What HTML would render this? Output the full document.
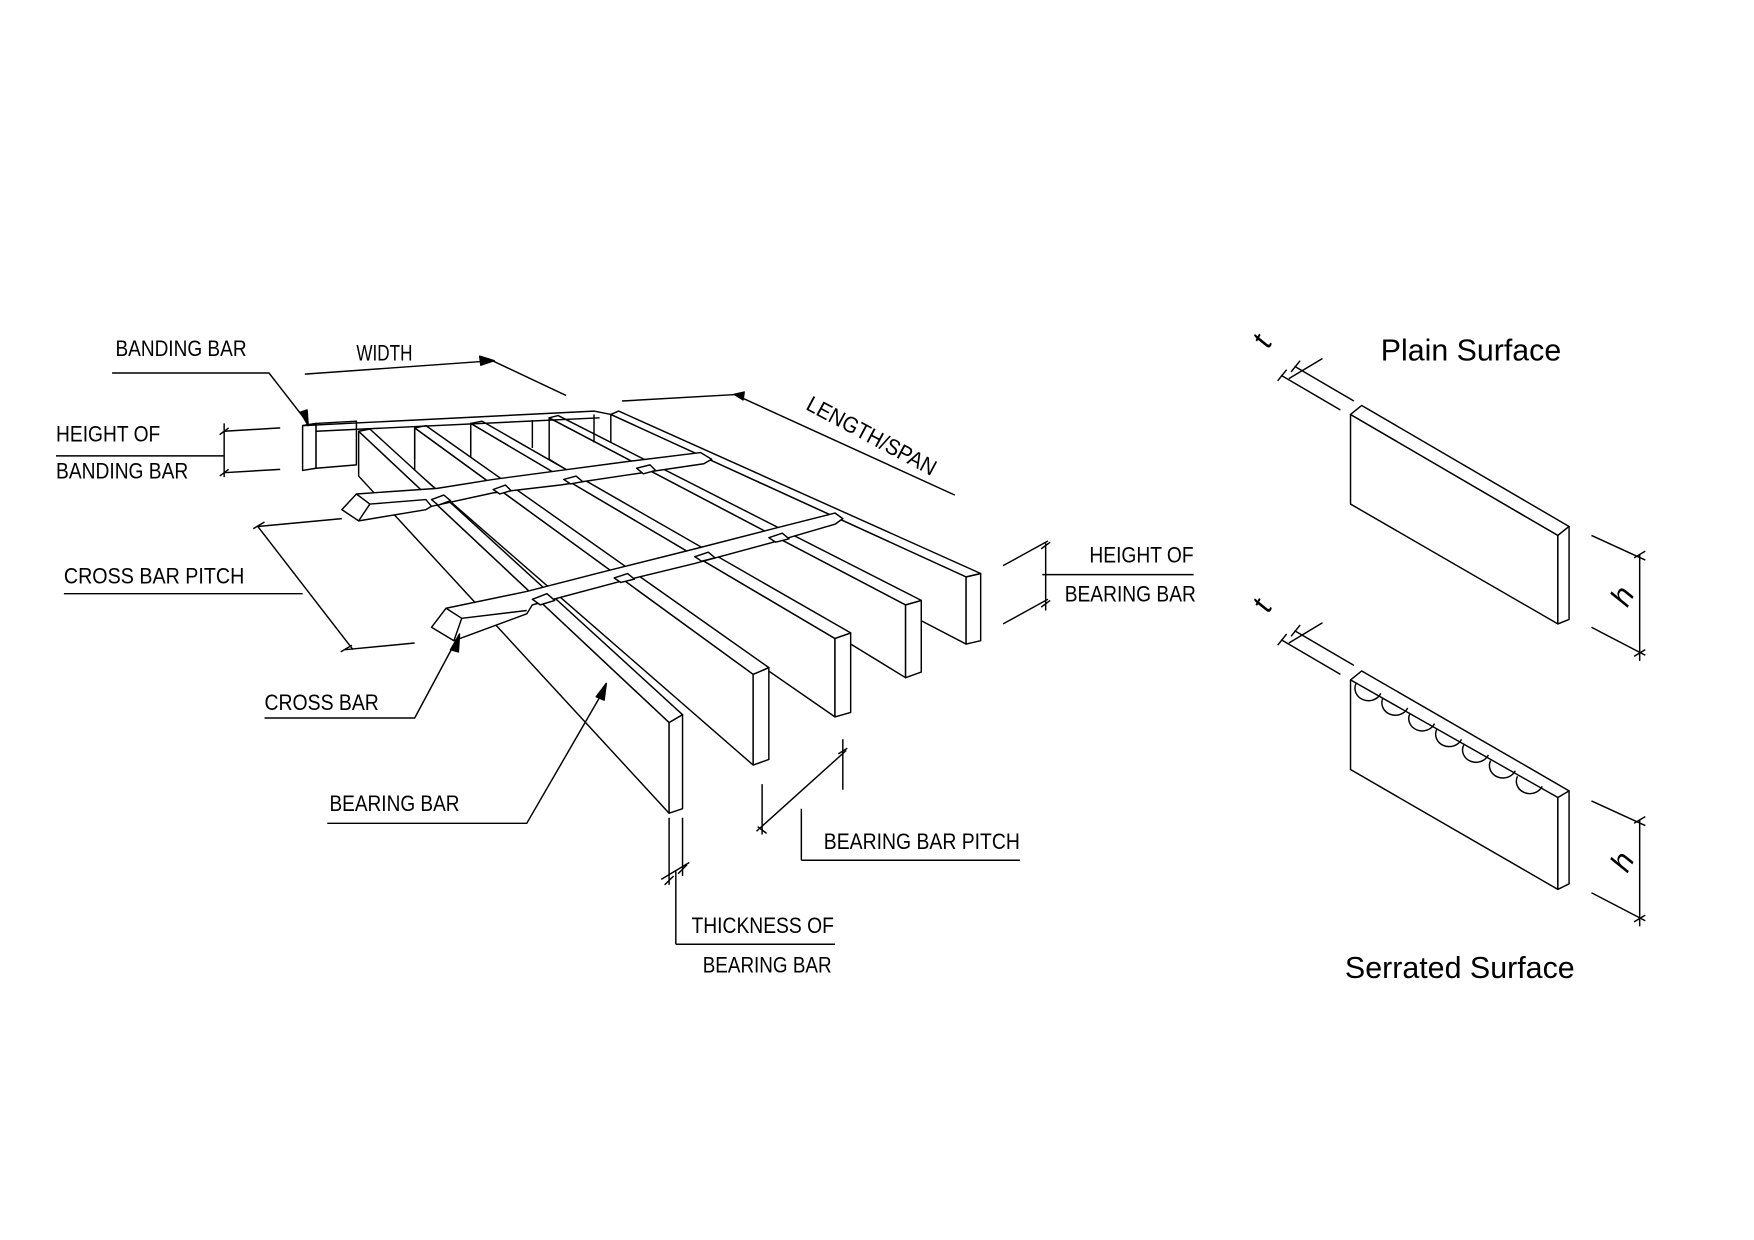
<!DOCTYPE html>
<html><head><meta charset="utf-8"><style>
html,body{margin:0;padding:0;background:#fff}
svg{display:block}
.t{font-family:"Liberation Sans Narrow","Liberation Sans",sans-serif;font-size:20px;fill:#000}
.a{font-family:"Liberation Sans",sans-serif;font-size:27px;fill:#000}
</style></head><body>
<svg width="1754" height="1240" viewBox="0 0 1565 1107" preserveAspectRatio="none" xmlns="http://www.w3.org/2000/svg">
<g fill="none" stroke="#000" stroke-width="1.3" stroke-linejoin="round">
<g fill="#fff">
<polygon points="545,370 862,515 862,575 545,410"/><polygon points="862,515 875,512 875,572 862,575"/><polygon points="545,370 552,367 875,512 862,515" />
<polygon points="490,373 808,540 808,605 490,410"/><polygon points="808,540 822,536 822,600 808,605"/><polygon points="490,373 498,371 822,536 808,540"/>
<polygon points="420,378 745,570 745,640 420,415"/><polygon points="745,570 759,565 759,636 745,640"/><polygon points="420,378 430,376 759,565 745,570"/>
<polygon points="370,382 672,602 672,683 370,420"/><polygon points="672,602 686,596 686,678 672,683"/><polygon points="370,382 380,380 686,596 672,602"/>
<polygon points="320,385 597,645 597,726 320,425"/><polygon points="597,645 609,638 609,722 597,726"/><polygon points="320,385 330,383 609,638 597,645"/>
</g>
<path fill="#fff" d="M318,441 L390,436 L440,428 L500,420 L560,412 L625,404 L635,410 L628,414 L560,424 L500,433 L440,440 L385,452 L380,455 L320,465 L305,455 Z"/>
<path d="M318,441 L330,450 L380,446 L385,452 M330,450 L320,465"/>
<path fill="#fff" d="M385,446 L396,442 L402,447 L391,451 Z M440,437 L451,433 L456,438 L446,441 Z M503,428 L514,425 L520,430 L509,432 Z M568,418 L580,415 L585,420 L574,423 Z"/>
<path fill="#fff" d="M398,543 L470,528 L540,510 L620,490 L690,472 L745,458 L752,463 L745,468 L690,484 L620,503 L550,520 L475,540 L470,548 L405,572 L385,560 Z"/>
<path d="M398,543 L412,552 L470,545 M412,552 L405,572"/>
<path fill="#fff" d="M475,535 L488,530 L495,536 L482,540 Z M548,516 L560,512 L566,517 L554,520 Z M620,497 L632,493 L638,498 L626,501 Z M686,480 L698,476 L704,481 L692,484 Z"/>
<polygon fill="#fff" points="270,380 282,378 282,418 270,420"/>
<polygon fill="#fff" points="282,378 318,376 318,415 282,418"/>
<path d="M270,380 L530,367 L545,370 M282,385 L535,373 M270,380 L282,378"/>
<path d="M370,382 L370,410 M420,378 L420,405 M475,375 L475,400 M530,370 L530,395"/>
<path d="M100,333 L240,333 L275,378"/>
<polygon fill="#000" points="275,380 268,368 274,366"/>
<path d="M272,334 L440,322 M435,320 L505,353"/>
<polygon fill="#000" points="441,322 428,318 429,326"/>
<path d="M555,358 L660,352 M655,352 L852,442"/>
<polygon fill="#000" points="655,352 664,350 663,357"/>
<path d="M50,407 L200,407 M200,385 L250,382 M200,422 L250,419 M200,378 L200,426 M196,388 L204,382 M196,425 L204,419"/>
<path d="M57,530 L270,530 M230,470 L315,580 M230,470 L305,463 M308,580 L370,574 M226,472 L236,466 M304,582 L314,576"/>
<path d="M236,641 L370,641 L408,570"/>
<polygon fill="#000" points="410,566 402,580 409,582"/>
<path d="M292,735 L470,735 L540,614"/>
<polygon fill="#000" points="541,610 532,622 539,625"/>
<path d="M930,513 L1065,513 M933,485 L933,545 M895,505 L935,483 M895,557 L935,535 M929,490 L937,484 M929,542 L937,536"/>
<path d="M715,768 L910,768 M715,768 L715,722 M675,742 L755,670 M680,700 L680,745 M752,660 L752,705 M676,738 L684,744 M748,673 L756,668"/>
<path d="M603,843 L745,843 M603,778 L603,843 M597,730 L597,790 M609,730 L609,782 M590,785 L615,770 M593,790 L601,782 M605,780 L613,772"/>
<polygon fill="#fff" points="1205,370 1390,478 1390,557 1205,450"/>
<polygon fill="#fff" points="1205,370 1215,362 1400,470 1390,478"/>
<polygon fill="#fff" points="1390,478 1400,470 1400,553 1390,557"/>
<path d="M1155,327 L1208,358 M1143,335 L1196,366 M1150,338 L1180,320 M1140,340 L1148,330 M1152,332 L1160,322"/>
<path d="M1420,478 L1468,500 M1420,560 L1468,585 M1463,495 L1463,590 M1458,498 L1468,492 M1458,586 L1468,580"/>
<polygon fill="#fff" points="1205,607 1390,712 1390,794 1205,687"/>
<polygon fill="#fff" points="1390,712 1400,706 1400,789 1390,794"/>
<path d="M1205,607 L1215,599 L1400,706"/>
<path d="M1210,610 a12,11 0 0 0 22,9 M1234,623 a12,11 0 0 0 22,9 M1258,637 a12,11 0 0 0 22,9 M1282,651 a12,11 0 0 0 22,9 M1306,665 a12,11 0 0 0 22,9 M1330,679 a12,11 0 0 0 22,9 M1354,693 a12,11 0 0 0 22,9"/>
<path d="M1155,563 L1208,594 M1143,571 L1196,602 M1150,574 L1180,556 M1140,576 L1148,566 M1152,568 L1160,558"/>
<path d="M1420,715 L1468,737 M1420,797 L1468,822 M1463,732 L1463,827 M1458,735 L1468,729 M1458,823 L1468,817"/>
</g>
<g>
<text class="t" x="103" y="318" textLength="117" lengthAdjust="spacingAndGlyphs">BANDING  BAR</text>
<text class="t" x="318" y="322" textLength="50" lengthAdjust="spacingAndGlyphs" font-size="18">WIDTH</text>
<text class="t" x="0" y="0" transform="translate(718,365) rotate(28)" textLength="128" lengthAdjust="spacingAndGlyphs">LENGTH/SPAN</text>
<text class="t" x="50" y="394" textLength="93" lengthAdjust="spacingAndGlyphs">HEIGHT  OF</text>
<text class="t" x="50" y="427" textLength="118" lengthAdjust="spacingAndGlyphs">BANDING  BAR</text>
<text class="t" x="57" y="521" textLength="161" lengthAdjust="spacingAndGlyphs">CROSS  BAR  PITCH</text>
<text class="t" x="236" y="634" textLength="102" lengthAdjust="spacingAndGlyphs">CROSS  BAR</text>
<text class="t" x="294" y="724" textLength="116" lengthAdjust="spacingAndGlyphs">BEARING  BAR</text>
<text class="t" x="972" y="502" textLength="93" lengthAdjust="spacingAndGlyphs">HEIGHT  OF</text>
<text class="t" x="950" y="537" textLength="117" lengthAdjust="spacingAndGlyphs">BEARING  BAR</text>
<text class="t" x="735" y="758" textLength="175" lengthAdjust="spacingAndGlyphs">BEARING  BAR  PITCH</text>
<text class="t" x="617" y="833" textLength="127" lengthAdjust="spacingAndGlyphs">THICKNESS  OF</text>
<text class="t" x="627" y="868" textLength="115" lengthAdjust="spacingAndGlyphs">BEARING  BAR</text>
<text class="a" x="1232" y="322" textLength="161" lengthAdjust="spacingAndGlyphs">Plain Surface</text>
<text class="a" x="1200" y="873" textLength="205" lengthAdjust="spacingAndGlyphs">Serrated Surface</text>
<text class="a" font-style="italic" transform="translate(1132,312) rotate(-62)" x="0" y="0">t</text>
<text class="a" font-style="italic" transform="translate(1132,548) rotate(-62)" x="0" y="0">t</text>
<text class="a" font-style="italic" transform="translate(1452,543) rotate(-62)" x="0" y="0">h</text>
<text class="a" font-style="italic" transform="translate(1452,780) rotate(-62)" x="0" y="0">h</text>
</g>
</svg>
</body></html>
